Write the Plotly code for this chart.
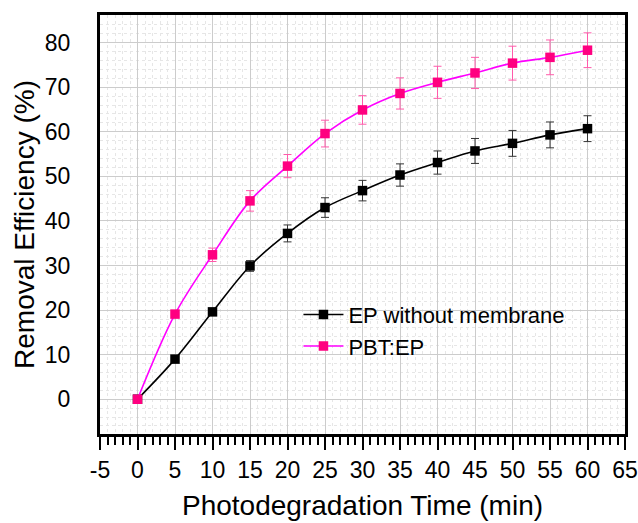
import plotly.graph_objects as go

time_min = [0, 5, 10, 15, 20, 25, 30, 35, 40, 45, 50, 55, 60]
ep_eff = [0, 9.0, 19.6, 29.9, 37.2, 43.0, 46.8, 50.3, 53.1, 55.7, 57.4, 59.3, 60.7]
ep_err = [0, 0.3, 0.5, 1.2, 1.9, 2.2, 2.3, 2.5, 2.6, 2.8, 2.9, 2.9, 2.9]
pbt_eff = [0, 19.1, 32.4, 44.5, 52.3, 59.6, 64.9, 68.6, 71.1, 73.2, 75.4, 76.7, 78.3]
pbt_err = [0, 0.4, 1.5, 2.3, 2.6, 3.0, 3.2, 3.5, 3.6, 3.5, 3.8, 3.9, 3.9]
x_ticks = [-5, 0, 5, 10, 15, 20, 25, 30, 35, 40, 45, 50, 55, 60, 65]
y_ticks = [0, 10, 20, 30, 40, 50, 60, 70, 80]

FONT = "Liberation Sans, Arial, sans-serif"

fig = go.Figure()
fig.add_trace(go.Scatter(
    x=time_min, y=ep_eff, name="EP without membrane",
    mode="lines+markers",
    line=dict(color="#000000", width=1.6, shape="spline"),
    marker=dict(symbol="square", size=9.5, color="#000000"),
    error_y=dict(type="data", array=ep_err, visible=True, color="#333333", thickness=1, width=4),
))
fig.add_trace(go.Scatter(
    x=time_min, y=pbt_eff, name="PBT:EP",
    mode="lines+markers",
    line=dict(color="#FF00FF", width=1.6, shape="spline"),
    marker=dict(symbol="square", size=9.5, color="#FF0080"),
    error_y=dict(type="data", array=pbt_err, visible=True, color="#FF5AAA", thickness=1, width=4),
))

fig.update_layout(
    width=638, height=523,
    margin=dict(l=100, r=13, t=15, b=89),
    paper_bgcolor="white", plot_bgcolor="white",
    font=dict(family=FONT, color="#000000"),
    showlegend=True,
    legend=dict(x=0.378, y=0.335, xanchor="left", yanchor="top",
                bgcolor="rgba(0,0,0,0)", font=dict(size=22, family=FONT),
                tracegroupgap=0, itemwidth=40),
)
fig.update_xaxes(
    range=[-5, 65], tickvals=x_ticks, ticktext=[str(v) for v in x_ticks],
    automargin=False,
    showline=True, linecolor="#000000", linewidth=3, mirror=True,
    ticks="outside", ticklen=13, tickwidth=2, tickcolor="#000000",
    tickfont=dict(size=23, family=FONT),
    showgrid=True, gridcolor="#cccccc", gridwidth=1,
    zeroline=False,
    minor=dict(dtick=1, tick0=0, ticks="outside", ticklen=8, tickwidth=2, tickcolor="#000000",
               showgrid=True, gridcolor="#e6e6e6", griddash="dot", gridwidth=1),
    title=dict(text="Photodegradation Time (min)", font=dict(size=28, family=FONT), standoff=14),
)
fig.update_yaxes(
    range=[-7.8, 86.2], tickvals=y_ticks, ticktext=[str(v) for v in y_ticks],
    automargin=False,
    showline=True, linecolor="#000000", linewidth=3, mirror=True,
    ticks="", ticklabelstandoff=22,
    tickfont=dict(size=23, family=FONT),
    showgrid=True, gridcolor="#cccccc", gridwidth=1,
    zeroline=False,
    minor=dict(dtick=2, tick0=0, ticks="", showgrid=True, gridcolor="#e6e6e6", griddash="dot", gridwidth=1),
    title=dict(text="Removal Efficiency (%)", font=dict(size=28, family=FONT), standoff=3),
)

# remove the browser's default 8px body margin so the figure fills the window exactly
fig.write_html("out.html",
               config={"displayModeBar": False},
               post_script="document.body.style.margin='0';document.body.style.overflow='hidden';")
